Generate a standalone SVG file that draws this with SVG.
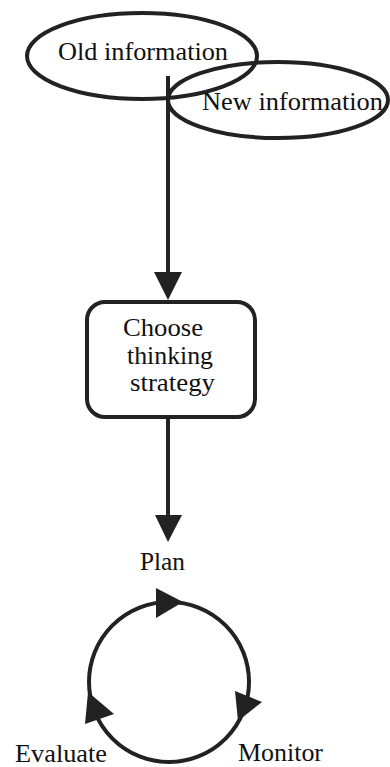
<svg xmlns="http://www.w3.org/2000/svg" width="390" height="767" viewBox="0 0 390 767">
  <style>
    .shape { fill: none; stroke: #222; stroke-width: 4; }
    .box { fill: #fff; stroke: #222; stroke-width: 4; }
    .line { stroke: #222; stroke-width: 4; fill: none; }
    .head { fill: #222; stroke: none; }
    .t { font-family: "Liberation Serif", "Times New Roman", "DejaVu Serif", serif; font-size: 25px; fill: #111; }
  </style>
  <rect width="390" height="767" fill="#fff"/>
  <g id="connectors">
    <line class="line" x1="168" y1="76" x2="168" y2="274"/>
    <polygon class="head" points="154,272 182,272 168,300"/>
    <line class="line" x1="168" y1="418" x2="168" y2="517"/>
    <polygon class="head" points="155,515 182,515 168,542"/>
  </g>
  <g id="old-information">
    <ellipse class="shape" cx="142" cy="56" rx="115" ry="43"/>
    <text class="t" x="58" y="60" textLength="170" lengthAdjust="spacingAndGlyphs">Old information</text>
  </g>
  <g id="new-information">
    <ellipse class="shape" cx="278" cy="100" rx="110" ry="38"/>
    <text class="t" x="202" y="110" textLength="181" lengthAdjust="spacingAndGlyphs">New information</text>
  </g>
  <g id="choose-strategy">
    <rect class="box" x="87" y="302" width="168" height="115" rx="18"/>
    <text class="t" x="123" y="336" textLength="80" lengthAdjust="spacingAndGlyphs">Choose</text>
    <text class="t" x="127" y="364" textLength="86" lengthAdjust="spacingAndGlyphs">thinking</text>
    <text class="t" x="130" y="391" textLength="85" lengthAdjust="spacingAndGlyphs">strategy</text>
  </g>
  <g id="cycle">
    <circle class="shape" cx="169" cy="682" r="80"/>
    <polygon class="head" points="156,588 156,618 183,602"/>
    <polygon class="head" points="235,691 262,702 238,721"/>
    <polygon class="head" points="88,692 114,714 85,724"/>
  </g>
  <g id="plan">
    <text class="t" x="140" y="570" textLength="45" lengthAdjust="spacingAndGlyphs">Plan</text>
  </g>
  <g id="monitor">
    <text class="t" x="238" y="761" textLength="85" lengthAdjust="spacingAndGlyphs">Monitor</text>
  </g>
  <g id="evaluate">
    <text class="t" x="15" y="762" textLength="92" lengthAdjust="spacingAndGlyphs">Evaluate</text>
  </g>
</svg>
